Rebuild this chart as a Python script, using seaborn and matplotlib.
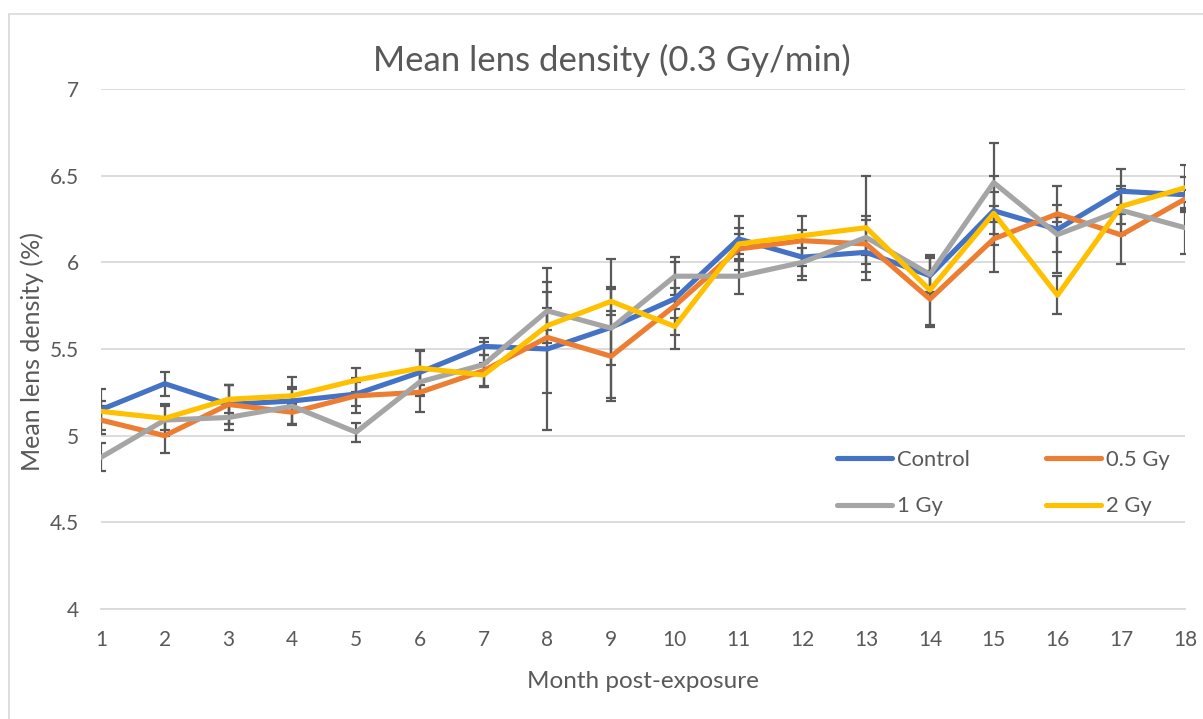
import numpy as np
import pandas as pd
import seaborn as sns
import matplotlib.pyplot as plt
from matplotlib.patches import Rectangle

# Monthly mean lens density (%) per dose group, with error bar half-widths
months = list(range(1, 19))
series_names = ["Control", "0.5 Gy", "1 Gy", "2 Gy"]

control = [5.15, 5.30, 5.18, 5.20, 5.24, 5.365, 5.515, 5.50, 5.625, 5.79,
           6.135, 6.03, 6.058, 5.923, 6.298, 6.19, 6.41, 6.39]
gy05 = [5.09, 5.00, 5.18, 5.135, 5.23, 5.25, 5.375, 5.567, 5.458, 5.75,
        6.077, 6.125, 6.106, 5.788, 6.135, 6.28, 6.158, 6.365]
gy1 = [4.875, 5.09, 5.105, 5.17, 5.02, 5.31, 5.41, 5.72, 5.62, 5.92,
       5.92, 6.00, 6.144, 5.93, 6.46, 6.16, 6.30, 6.20]
gy2 = [5.14, 5.10, 5.21, 5.23, 5.32, 5.39, 5.35, 5.635, 5.775, 5.63,
       6.106, 6.154, 6.20, 5.84, 6.283, 5.81, 6.323, 6.43]

control_err = [0.12, 0.07, 0.11, 0.14, 0.07, 0.13, 0.05, 0.47, 0.22, 0.06,
               0.13, 0.13, 0.07, 0.10, 0.20, 0.25, 0.13, 0.10]
gy05_err = [0.08, 0.10, 0.11, 0.07, 0.10, 0.115, 0.09, 0.32, 0.26, 0.25,
            0.12, 0.145, 0.16, 0.16, 0.19, 0.05, 0.17, 0.05]
gy1_err = [0.08, 0.09, 0.07, 0.10, 0.055, 0.08, 0.13, 0.11, 0.40, 0.11,
           0.10, 0.08, 0.10, 0.10, 0.23, 0.10, 0.14, 0.15]
gy2_err = [0.06, 0.07, 0.08, 0.05, 0.07, 0.10, 0.07, 0.10, 0.08, 0.05,
           0.06, 0.03, 0.30, 0.20, 0.12, 0.11, 0.10, 0.13]

y_ticks = [4, 4.5, 5, 5.5, 6, 6.5, 7]
y_tick_labels = ["4", "4.5", "5", "5.5", "6", "6.5", "7"]

colors = ["#4472C4", "#ED7D31", "#A5A5A5", "#FFC000"]
text_color = "#595959"
grid_color = "#D9D9D9"

values = [control, gy05, gy1, gy2]
errors = [control_err, gy05_err, gy1_err, gy2_err]

df = pd.DataFrame({
    "month": months * len(series_names),
    "density": sum(values, []),
    "err": sum(errors, []),
    "group": [name for name in series_names for _ in months],
})

sns.set_theme(style="white")
plt.rcParams["font.family"] = ["Lato", "DejaVu Sans"]

W, H = 1203, 719
fig = plt.figure(figsize=(W / 100, H / 100), dpi=100)
ax = fig.add_axes([101 / W, 1 - 609 / H, (1185 - 101) / W, (609 - 89) / H])

# chart-area border
fig.patches.append(Rectangle((9 / W, -0.05), 1.2, 1 - 14 / H + 0.05,
                             transform=fig.transFigure, fill=False,
                             edgecolor=grid_color, linewidth=1.2))

# error bars underneath the lines
for name in series_names:
    sub = df[df["group"] == name]
    ax.errorbar(sub["month"], sub["density"], yerr=sub["err"], fmt="none",
                ecolor=text_color, elinewidth=1.6, capsize=3.8,
                capthick=1.6, zorder=2)

sns.lineplot(data=df, x="month", y="density", hue="group",
             hue_order=series_names, palette=colors, linewidth=3.7,
             errorbar=None, ax=ax, zorder=3)

ax.set_xlim(1, 18)
ax.set_ylim(4, 7)
ax.set_xticks(months)
ax.set_xticklabels([str(m) for m in months])
ax.set_yticks(y_ticks)
ax.set_yticklabels(y_tick_labels)
ax.grid(axis="y", color=grid_color, linewidth=1.3)
ax.set_axisbelow(True)
for side in ["top", "right", "left"]:
    ax.spines[side].set_visible(False)
ax.spines["bottom"].set_color(grid_color)
ax.spines["bottom"].set_linewidth(1.3)
ax.tick_params(axis="x", length=5, width=1.3, color=grid_color,
               labelsize=15, labelcolor=text_color, pad=10)
ax.tick_params(axis="y", length=0, labelsize=15, labelcolor=text_color, pad=16)
ax.set_xlabel("")
ax.set_ylabel("")

fig.text(612 / W, 1 - 60 / H, "Mean lens density (0.3 Gy/min)",
         ha="center", va="center", fontsize=25, color=text_color)
fig.text(643 / W, 1 - 682 / H, "Month post-exposure",
         ha="center", va="center", fontsize=17.5, color=text_color)
fig.text(32 / W, 1 - 352 / H, "Mean lens density (%)", rotation=90,
         ha="center", va="center", fontsize=18, color=text_color)

# row-wise legend order: Control, 0.5 Gy / 1 Gy, 2 Gy
handles, labels = ax.get_legend_handles_labels()
order = [0, 2, 1, 3]
leg = ax.legend([handles[i] for i in order], [labels[i] for i in order],
                ncol=2, frameon=False, fontsize=15.8,
                loc="upper left",
                bbox_to_anchor=(837 / W, 1 - 450 / H),
                bbox_transform=fig.transFigure,
                borderpad=0, borderaxespad=0, handlelength=2.5,
                handletextpad=0.25, columnspacing=3.45, labelspacing=1.2,
                labelcolor=text_color)
for line in leg.get_lines():
    line.set_linewidth(3.7)
    line.set_solid_capstyle("round")

fig.savefig("out.png", dpi=100)
